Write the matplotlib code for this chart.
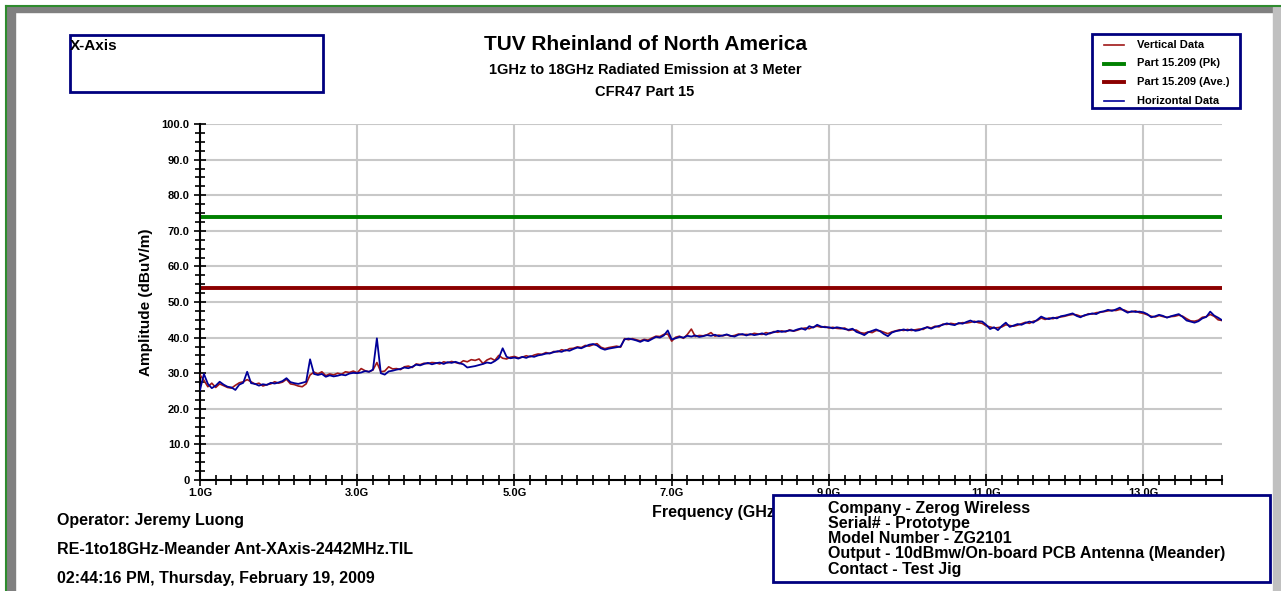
import numpy as np
import matplotlib.pyplot as plt
from matplotlib.patches import Rectangle
from matplotlib.lines import Line2D
from matplotlib.ticker import MultipleLocator, FixedLocator

plt.rcParams['font.family'] = ['Liberation Sans', 'DejaVu Sans']
plt.rcParams['font.weight'] = 'bold'

# frequency grid (GHz), one point every 0.05 GHz from 1.0 to 14.0
freq_ghz = np.round(np.linspace(1.0, 14.0, 261), 2)

# Horizontal data (dBuV/m)
horizontal = [
    25.3, 29.8, 27.0, 25.8, 26.5, 27.6, 26.8, 26.2, 26.0, 25.3,
    26.8, 27.3, 30.4, 27.2, 27.0, 26.5, 26.9, 26.7, 27.3, 27.1,
    27.4, 27.8, 28.6, 27.5, 27.2, 27.0, 27.3, 27.6, 33.9, 29.8,
    29.5, 29.8, 29.0, 29.4, 29.1, 29.3, 29.6, 29.4, 29.9, 30.1,
    30.0, 30.2, 30.6, 30.4, 31.0, 39.8, 30.0, 29.6, 30.5, 30.7,
    31.0, 31.2, 31.6, 31.4, 31.8, 32.4, 32.2, 32.6, 32.9, 32.5,
    32.8, 33.0, 32.6, 33.1, 32.9, 33.2, 32.8, 32.5, 31.6, 31.8,
    32.0, 32.3, 32.6, 33.0, 32.8, 33.4, 34.2, 37.0, 34.6, 34.2,
    34.4, 34.1, 34.6, 34.3, 34.8, 34.6, 35.0, 35.2, 35.5, 35.6,
    35.9, 36.2, 36.0, 36.5, 36.3, 36.8, 37.2, 37.0, 37.5, 38.0,
    38.2, 37.8, 37.0, 36.6, 36.9, 37.1, 37.3, 37.5, 39.5, 39.7,
    39.5, 39.2, 38.8, 39.3, 39.0, 39.6, 40.2, 40.0, 40.6, 42.0,
    39.5, 39.8, 40.2, 40.0, 40.5, 40.3, 40.6, 40.2, 40.4, 40.7,
    40.5, 40.8, 40.4, 40.6, 40.9, 40.5, 40.3, 40.8, 41.0, 40.6,
    41.0, 40.7, 40.9, 41.2, 40.8, 41.3, 41.5, 41.9, 41.6, 41.8,
    42.0, 41.9, 42.3, 42.6, 42.2, 43.2, 42.8, 43.6, 43.1, 42.9,
    42.9, 42.6, 42.9, 42.7, 42.4, 42.2, 42.5, 41.6, 41.2, 40.7,
    41.5, 41.9, 42.3, 41.8, 41.0, 40.4, 41.4, 41.8, 42.0, 42.3,
    42.0, 42.3, 41.9, 42.1, 42.6, 42.9, 42.5, 43.0, 43.3, 43.6,
    44.0, 43.7, 43.5, 44.1, 43.9, 44.4, 44.8, 44.3, 44.6, 44.5,
    43.6, 42.4, 42.9, 42.1, 43.3, 44.2, 43.0, 43.4, 43.8, 43.6,
    44.1, 44.5, 44.2, 45.0, 45.9, 45.4, 45.2, 45.6, 45.4, 46.0,
    46.2, 46.5, 46.8, 46.1, 45.7, 46.3, 46.5, 46.8, 46.6, 47.2,
    47.4, 47.8, 47.5, 47.9, 48.4, 47.6, 47.0, 47.4, 47.2, 47.3,
    47.1, 46.6, 45.7, 46.0, 46.4, 46.1, 45.6, 46.0, 46.3, 46.6,
    45.8, 44.8, 44.5, 44.2, 44.6, 45.4, 45.8, 47.3, 46.2, 45.6,
    44.9,
]

# Vertical data (dBuV/m)
vertical = [
    29.5, 28.0, 26.2, 27.2, 26.0, 27.0, 26.5, 26.0, 25.8, 26.6,
    27.3, 27.6, 28.2, 27.6, 26.9, 27.2, 26.4, 26.8, 27.0, 27.6,
    27.2, 27.5, 28.3, 27.0, 26.8, 26.4, 26.2, 27.0, 29.5, 30.3,
    29.8, 30.4, 29.3, 29.8, 29.5, 30.0, 29.7, 30.4, 30.2, 30.6,
    30.1, 31.3, 30.7, 30.4, 30.9, 33.0, 30.4, 30.6, 31.8, 31.2,
    31.3, 31.0, 31.8, 32.0, 31.6, 32.6, 32.4, 32.8, 32.7, 33.0,
    32.9, 32.6, 33.2, 32.9, 33.3, 33.0, 32.7, 33.5, 33.2, 33.8,
    33.6, 34.0, 32.7, 33.7, 34.2, 33.6, 35.0, 34.2, 34.0, 34.5,
    34.7, 34.3, 34.5, 34.9, 34.6, 35.1, 35.4, 35.3, 35.8, 35.5,
    36.1, 36.0, 36.6, 36.3, 36.9, 37.0, 37.4, 37.2, 37.8, 37.6,
    38.0, 38.3, 37.3, 36.9, 37.2, 37.4, 37.6, 37.3, 39.7, 39.4,
    39.7, 39.4, 39.1, 39.5, 39.3, 39.9, 40.4, 40.3, 40.9, 41.0,
    39.0, 40.1, 40.4, 39.8, 40.9, 42.4, 40.3, 40.6, 40.5, 40.8,
    41.4, 40.4, 40.7, 40.5, 40.8, 40.4, 40.6, 41.0, 40.8, 40.9,
    40.8, 41.2, 41.0, 40.9, 41.4, 41.1, 41.7, 41.5, 41.9, 41.6,
    42.2, 41.8, 42.1, 42.5, 42.7, 42.5, 43.0, 43.2, 42.9, 43.1,
    42.7, 42.9, 42.6, 42.5, 42.7, 42.0, 42.2, 42.1, 41.4, 41.2,
    41.6, 41.4, 42.0, 41.9, 41.5, 41.1, 41.6, 41.9, 42.2, 42.0,
    42.3, 42.0, 42.2, 42.4, 42.3, 43.0, 42.7, 43.2, 43.0, 43.8,
    43.7, 44.0, 43.8, 43.9, 44.2, 44.1, 44.3, 44.6, 44.2, 44.0,
    43.3, 43.0, 42.7, 42.8, 43.0, 43.6, 43.4, 43.2, 43.5, 43.9,
    44.3, 44.0, 44.6, 44.8, 45.5, 45.1, 45.5, 45.3, 45.7, 45.8,
    46.0, 46.3, 46.5, 46.4, 46.0, 46.1, 46.7, 46.6, 47.0, 47.1,
    47.3, 47.5, 47.7, 47.6, 47.9, 47.8, 47.3, 47.2, 47.5, 47.0,
    46.8, 46.4, 46.0, 45.8, 46.2, 45.9, 45.7, 45.9, 46.0, 46.3,
    46.0, 45.3, 44.7, 44.6, 44.9, 45.7, 45.9, 46.5, 46.0, 45.0,
    44.8,
]

limit_pk = 74.0
limit_ave = 54.0

x_ticks = [1.0, 3.0, 5.0, 7.0, 9.0, 11.0, 13.0]
x_labels = ['1.0G', '3.0G', '5.0G', '7.0G', '9.0G', '11.0G', '13.0G']
y_ticks = [0, 10, 20, 30, 40, 50, 60, 70, 80, 90, 100]
y_labels = ['0', '10.0', '20.0', '30.0', '40.0', '50.0', '60.0', '70.0', '80.0', '90.0', '100.0']

W, H = 1281, 591
NAVY = '#00007f'


def fx(x):
    return x / W


def fy(y):
    return 1 - y / H


fig = plt.figure(figsize=(W / 100, H / 100), dpi=100)
fig.patch.set_facecolor('white')

# window frame decoration
fig.patches.append(Rectangle((fx(7), 0), fx(8), fy(7), transform=fig.transFigure, color='#808080', zorder=0))
fig.patches.append(Rectangle((fx(7), fy(12)), fx(1266), fy(7) - fy(12), transform=fig.transFigure, color='#808080', zorder=0))
fig.patches.append(Rectangle((fx(1273), 0), fx(8), fy(7), transform=fig.transFigure, color='#c0c0c0', zorder=0))
fig.lines.append(Line2D([fx(6), fx(1281)], [fy(6), fy(6)], transform=fig.transFigure, color='#2e8b2e', lw=1.5))
fig.lines.append(Line2D([fx(6), fx(6)], [0, fy(6)], transform=fig.transFigure, color='#2e8b2e', lw=1.5))

ax = fig.add_axes([fx(200), fy(480), fx(1222) - fx(200), fy(124) - fy(480)])
ax.plot(freq_ghz, vertical, color='#a01818', lw=1.2, zorder=3)
ax.plot(freq_ghz, horizontal, color='#000099', lw=1.3, zorder=4)
ax.axhline(limit_pk, color='#008000', lw=2.8, zorder=2)
ax.axhline(limit_ave, color='#8b0000', lw=2.8, zorder=2)

ax.set_xlim(1.0, 14.0)
ax.set_ylim(0, 100)
ax.xaxis.set_major_locator(FixedLocator(x_ticks))
ax.set_xticklabels(x_labels)
ax.xaxis.set_minor_locator(MultipleLocator(0.2))
ax.set_yticks(y_ticks)
ax.set_yticklabels(y_labels)
ax.yaxis.set_minor_locator(MultipleLocator(2.5))
ax.tick_params(which='both', direction='inout', color='black', width=1.2)
ax.tick_params(which='major', length=9, labelsize=8)
ax.tick_params(axis='y', which='major', pad=3)
ax.tick_params(axis='x', which='major', pad=1)
ax.tick_params(which='minor', length=7)
for lab in ax.get_xticklabels() + ax.get_yticklabels():
    lab.set_fontweight('bold')

for v in x_ticks[1:]:
    ax.axvline(v, color='#c8c8c8', lw=1.5, zorder=1)
for v in y_ticks[1:]:
    ax.axhline(v, color='#c8c8c8', lw=1.5, zorder=1)

for s in ['top', 'right']:
    ax.spines[s].set_visible(False)
ax.spines['left'].set_linewidth(1.5)
ax.spines['bottom'].set_linewidth(1.5)

ax.set_ylabel('Amplitude (dBuV/m)', fontsize=11, fontweight='bold', labelpad=6)
fig.text(fx(716), fy(513), 'Frequency (GHz)', ha='center', va='center', fontsize=11.5, fontweight='bold')

# titles
fig.text(fx(645), fy(45), 'TUV Rheinland of North America', ha='center', va='center', fontsize=15, fontweight='bold')
fig.text(fx(645), fy(70), '1GHz to 18GHz Radiated Emission at 3 Meter', ha='center', va='center', fontsize=10.5, fontweight='bold')
fig.text(fx(645), fy(92), 'CFR47 Part 15', ha='center', va='center', fontsize=10.5, fontweight='bold')

# X-Axis box
fig.patches.append(Rectangle((fx(70), fy(92)), fx(323) - fx(70), fy(35) - fy(92), transform=fig.transFigure,
                             facecolor='white', edgecolor=NAVY, lw=2, zorder=5))
fig.text(fx(70), fy(46), 'X-Axis', ha='left', va='center', fontsize=11, fontweight='bold', zorder=6)

# legend box
fig.patches.append(Rectangle((fx(1092), fy(108)), fx(1240) - fx(1092), fy(34) - fy(108), transform=fig.transFigure,
                             facecolor='white', edgecolor=NAVY, lw=2, zorder=5))
legend_items = [('Vertical Data', '#a01818', 1.2), ('Part 15.209 (Pk)', '#008000', 2.8),
                ('Part 15.209 (Ave.)', '#8b0000', 2.8), ('Horizontal Data', '#000099', 1.2)]
for i, (name, col, lw) in enumerate(legend_items):
    yy = 45 + i * 18.5
    fig.lines.append(Line2D([fx(1104), fx(1124)], [fy(yy), fy(yy)], transform=fig.transFigure, color=col, lw=lw, zorder=6))
    fig.text(fx(1137), fy(yy), name, ha='left', va='center', fontsize=8, fontweight='bold', zorder=6)

# bottom-left info
fig.text(fx(57), fy(520), 'Operator: Jeremy Luong', ha='left', va='center', fontsize=11.5, fontweight='bold')
fig.text(fx(57), fy(550), 'RE-1to18GHz-Meander Ant-XAxis-2442MHz.TIL', ha='left', va='center', fontsize=11.5, fontweight='bold')
fig.text(fx(57), fy(579), '02:44:16 PM, Thursday, February 19, 2009', ha='left', va='center', fontsize=11.5, fontweight='bold')

# bottom-right info box
fig.patches.append(Rectangle((fx(773), fy(582)), fx(1270) - fx(773), fy(495) - fy(582), transform=fig.transFigure,
                             facecolor='white', edgecolor=NAVY, lw=2, zorder=5))
info = ['Company - Zerog Wireless', 'Serial# - Prototype', 'Model Number - ZG2101',
        'Output - 10dBmw/On-board PCB Antenna (Meander)', 'Contact - Test Jig']
for i, t in enumerate(info):
    fig.text(fx(828), fy(508 + i * 15.3), t, ha='left', va='center', fontsize=11.5, fontweight='bold', zorder=6)

plt.savefig('out.png', dpi=100)
